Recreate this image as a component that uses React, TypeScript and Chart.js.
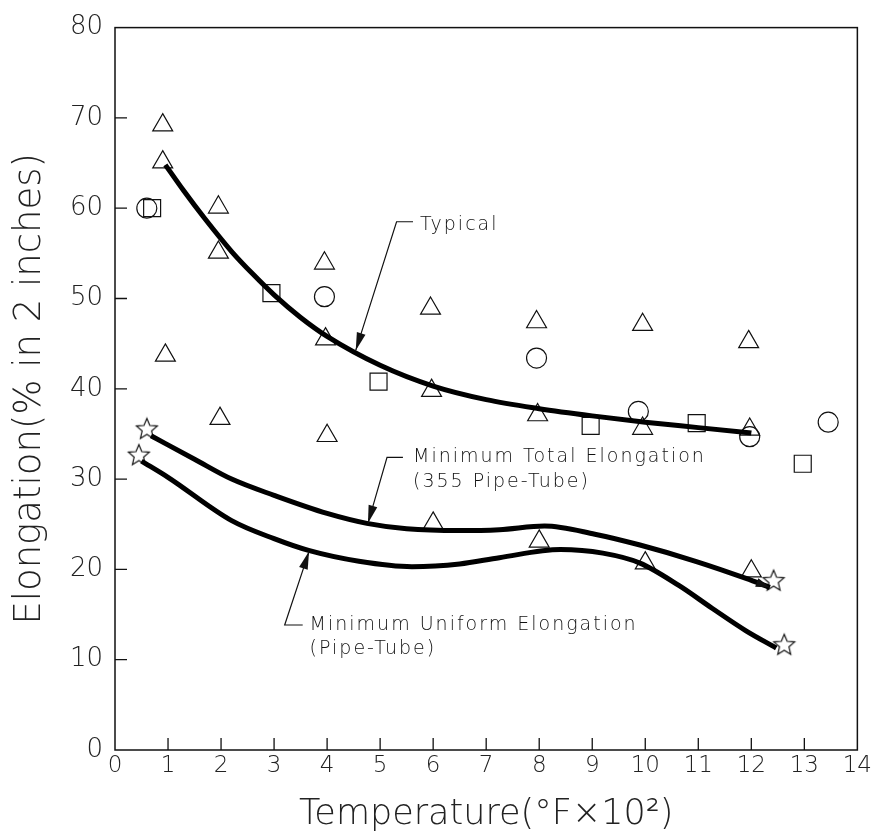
import React, { useEffect, useRef } from 'react';
import { Chart, registerables } from 'chart.js';

Chart.register(...registerables);

const FONT = "'DejaVu Sans', sans-serif";

const xTitle = 'Temperature(°F×10²)';
const yTitle = 'Elongation(% in 2 inches)';

// Scatter data
const triangleX = [0.9, 0.9, 0.95, 1.95, 1.95, 1.98, 3.95, 3.97, 4.0, 5.95, 5.97, 6.0, 7.95, 7.97, 8.0, 9.95, 9.95, 10.0, 11.95, 11.97, 12.0];
const triangleY = [69.2, 65.1, 43.7, 60.1, 55.1, 36.7, 53.9, 45.5, 34.8, 48.9, 39.8, 25.1, 47.4, 37.1, 23.1, 47.1, 35.6, 20.7, 45.2, 35.5, 19.8];

const circleX = [0.6, 3.95, 7.95, 9.87, 11.97, 13.45];
const circleY = [60.0, 50.2, 43.4, 37.5, 34.7, 36.3];

const squareX = [0.7, 2.95, 4.97, 8.97, 10.97, 12.97];
const squareY = [60.0, 50.6, 40.8, 35.9, 36.2, 31.7];

const starX = [0.6, 0.45, 12.42, 12.62];
const starY = [35.5, 32.6, 18.7, 11.6];

// Curves
const typicalX = [0.95, 1.3, 1.7, 2.2, 2.6, 3.0, 3.5, 4.0, 5.0, 6.0, 7.0, 8.0, 9.0, 10.0, 11.0, 12.0];
const typicalY = [64.8, 61.9, 58.8, 55.2, 52.7, 50.4, 47.9, 45.8, 42.6, 40.3, 38.8, 37.8, 37.0, 36.3, 35.7, 35.1];

const minTotalX = [0.68, 1.5, 2.2, 3.0, 4.0, 4.75, 5.5, 6.5, 7.25, 8.1, 9.05, 9.9, 10.95, 11.9, 12.35];
const minTotalY = [34.8, 32.2, 30.0, 28.2, 26.2, 25.1, 24.5, 24.3, 24.4, 24.8, 23.9, 22.7, 20.9, 19.0, 18.0];

const minUniformX = [0.5, 1.0, 2.2, 3.0, 3.65, 4.6, 5.6, 6.5, 7.25, 8.4, 9.2, 9.9, 10.64, 11.26, 11.9, 12.47];
const minUniformY = [32.0, 30.2, 25.4, 23.4, 22.1, 20.9, 20.3, 20.6, 21.3, 22.2, 21.8, 20.7, 18.2, 15.7, 13.2, 11.3];

// Annotation labels (text + leader anchor in data units)
const annTexts = [
  ['Typical'],
  ['Minimum Total Elongation', '(355 Pipe-Tube)'],
  ['Minimum Uniform Elongation', '(Pipe-Tube)'],
];
const annTextAt = [[5.75, 58.1], [5.62, 32.4], [3.67, 13.84]];
const annLeaderStart = [[5.62, 58.5], [5.43, 32.4], [3.54, 13.84]];
const annLeaderCorner = [[5.31, 58.5], [5.13, 32.4], [3.2, 13.84]];
const annTip = [[4.54, 44.25], [4.77, 25.1], [3.66, 22.0]];

const pts = (xs: number[], ys: number[]) => xs.map((x, i) => ({ x, y: ys[i] }));

function makeStar(r: number): HTMLCanvasElement {
  const s = Math.ceil(r * 2 + 4);
  const c = document.createElement('canvas');
  c.width = s;
  c.height = s;
  const g = c.getContext('2d')!;
  g.strokeStyle = '#111';
  g.lineWidth = 1.2;
  g.beginPath();
  for (let i = 0; i < 10; i++) {
    const a = -Math.PI / 2 + (i * Math.PI) / 5;
    const rr = i % 2 ? r * 0.45 : r;
    const px = s / 2 + rr * Math.cos(a);
    const py = s / 2 + rr * Math.sin(a);
    if (i === 0) g.moveTo(px, py);
    else g.lineTo(px, py);
  }
  g.closePath();
  g.stroke();
  return c;
}

function arrowHead(ctx: CanvasRenderingContext2D, fx: number, fy: number, tx: number, ty: number, len: number, hw: number) {
  const dx = tx - fx;
  const dy = ty - fy;
  const d = Math.hypot(dx, dy) || 1;
  const ux = dx / d;
  const uy = dy / d;
  const bx = tx - ux * len;
  const by = ty - uy * len;
  ctx.beginPath();
  ctx.moveTo(tx, ty);
  ctx.lineTo(bx - uy * hw, by + ux * hw);
  ctx.lineTo(bx + uy * hw, by - ux * hw);
  ctx.closePath();
  ctx.fill();
}

const framePlugin = {
  id: 'frameTicks',
  beforeDatasetsDraw(chart: any) {
    const { ctx, chartArea: a, scales } = chart;
    ctx.save();
    ctx.strokeStyle = '#111';
    ctx.lineWidth = 1.5;
    ctx.strokeRect(a.left, a.top, a.right - a.left, a.bottom - a.top);
    ctx.lineWidth = 1.3;
    ctx.beginPath();
    scales.x.ticks.forEach((t: any) => {
      if (t.value <= scales.x.min || t.value >= scales.x.max) return;
      const px = scales.x.getPixelForValue(t.value);
      ctx.moveTo(px, a.bottom);
      ctx.lineTo(px, a.bottom - 12);
    });
    scales.y.ticks.forEach((t: any) => {
      if (t.value <= scales.y.min || t.value >= scales.y.max) return;
      const py = scales.y.getPixelForValue(t.value);
      ctx.moveTo(a.left, py);
      ctx.lineTo(a.left + 12, py);
    });
    ctx.stroke();
    ctx.restore();
  },
  afterDatasetsDraw(chart: any) {
    const { ctx, scales } = chart;
    const X = (v: number) => scales.x.getPixelForValue(v);
    const Y = (v: number) => scales.y.getPixelForValue(v);
    ctx.save();
    ctx.strokeStyle = '#111';
    ctx.fillStyle = '#111';
    ctx.lineWidth = 1.2;
    annTexts.forEach((lines, i) => {
      const sx = X(annLeaderStart[i][0]);
      const sy = Y(annLeaderStart[i][1]);
      const cx = X(annLeaderCorner[i][0]);
      const cy = Y(annLeaderCorner[i][1]);
      const tx = X(annTip[i][0]);
      const ty = Y(annTip[i][1]);
      ctx.beginPath();
      ctx.moveTo(sx, sy);
      ctx.lineTo(cx, cy);
      ctx.lineTo(tx, ty);
      ctx.stroke();
      arrowHead(ctx, cx, cy, tx, ty, 18, 4.5);
      ctx.font = `200 19px ${FONT}`;
      (ctx as any).letterSpacing = '2px';
      ctx.textAlign = 'left';
      ctx.textBaseline = 'middle';
      const x0 = X(annTextAt[i][0]);
      const y0 = Y(annTextAt[i][1]);
      lines.forEach((ln, k) => ctx.fillText(ln, x0, y0 + k * 24.5));
      (ctx as any).letterSpacing = '0px';
    });
    // arrowhead at end of minimum total curve
    const n = minTotalX.length;
    arrowHead(ctx, X(minTotalX[n - 2]), Y(minTotalY[n - 2]), X(minTotalX[n - 1]), Y(minTotalY[n - 1]), 14, 4.5);
    ctx.restore();
  },
};

export default function App() {
  const ref = useRef<HTMLCanvasElement>(null);
  useEffect(() => {
    document.body.style.margin = '0';
    const star = makeStar(11);
    const lineDs = (label: string, xs: number[], ys: number[]) => ({
      label,
      data: pts(xs, ys),
      showLine: true,
      borderColor: '#000',
      borderWidth: 5,
      pointRadius: 0,
      cubicInterpolationMode: 'monotone',
      fill: false,
    });
    const markDs = (label: string, xs: number[], ys: number[], style: any, r: number) => ({
      label,
      data: pts(xs, ys),
      showLine: false,
      pointStyle: style,
      pointRadius: r,
      pointBorderColor: '#111',
      pointBackgroundColor: 'rgba(0,0,0,0)',
      pointBorderWidth: 1.2,
    });
    const chart = new Chart(ref.current!, {
      type: 'scatter',
      data: {
        datasets: [
          lineDs('Typical', typicalX, typicalY),
          lineDs('Minimum Total Elongation', minTotalX, minTotalY),
          lineDs('Minimum Uniform Elongation', minUniformX, minUniformY),
          markDs('Triangles', triangleX, triangleY, 'triangle', 11.5),
          markDs('Circles', circleX, circleY, 'circle', 10),
          markDs('Squares', squareX, squareY, 'rect', 12),
          markDs('Stars', starX, starY, star, 12),
        ] as any,
      },
      options: {
        animation: false,
        responsive: false,
        devicePixelRatio: 1,
        layout: { padding: { top: 16, right: 16, left: 0, bottom: 0 } },
        plugins: { legend: { display: false }, tooltip: { enabled: false } },
        scales: {
          x: {
            type: 'linear',
            min: 0,
            max: 14,
            grid: { display: false, drawTicks: false },
            border: { display: false },
            ticks: {
              stepSize: 1,
              padding: 2,
              color: '#222',
              font: { family: FONT, size: 23, weight: '200' as any },
            },
            title: {
              display: true,
              text: xTitle,
              color: '#222',
              padding: { top: 0, bottom: 2 },
              font: { family: FONT, size: 35, weight: '200' as any, lineHeight: 1 },
            },
            afterFit: (s: any) => {
              s.height = 84;
            },
          },
          y: {
            type: 'linear',
            min: 0,
            max: 80,
            grid: { display: false, drawTicks: false },
            border: { display: false },
            ticks: {
              stepSize: 10,
              padding: 12,
              color: '#222',
              font: { family: FONT, size: 26, weight: '200' as any },
            },
            title: {
              display: true,
              text: yTitle,
              color: '#222',
              padding: { top: 12, bottom: 0 },
              font: { family: FONT, size: 37, weight: '200' as any, lineHeight: 1 },
            },
            afterFit: (s: any) => {
              s.width = 115;
            },
          },
        },
      },
      plugins: [framePlugin],
    });
    return () => chart.destroy();
  }, []);
  return (
    <div style={{ width: 874, height: 834 }}>
      <canvas ref={ref} width={874} height={834} />
    </div>
  );
}
